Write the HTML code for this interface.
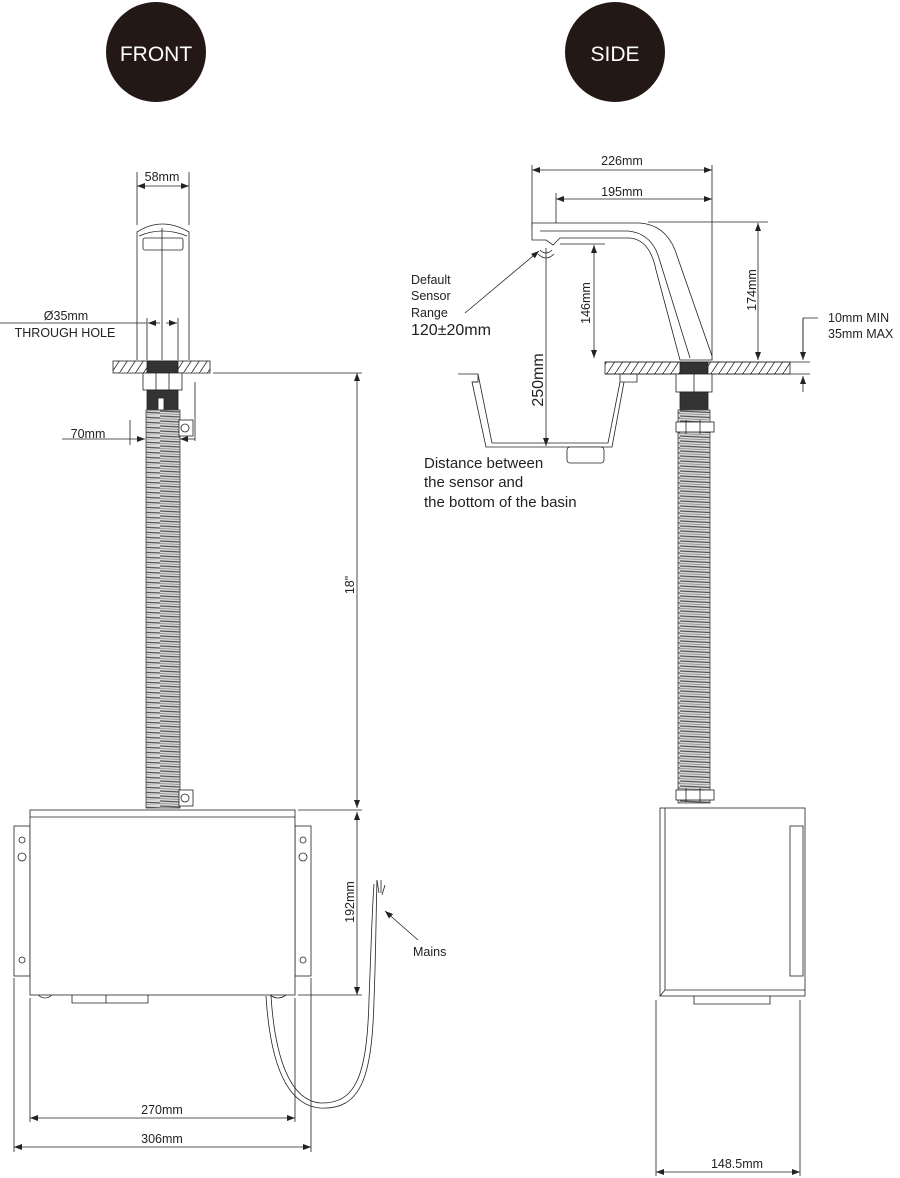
<!DOCTYPE html>
<html><head><meta charset="utf-8"><style>
html,body{margin:0;padding:0;background:#fff;}
svg{display:block;font-family:"Liberation Sans",sans-serif;}
</style></head><body>
<svg width="900" height="1178" viewBox="0 0 900 1178" xmlns="http://www.w3.org/2000/svg">
<defs>
<pattern id="hose" width="40" height="5" patternUnits="userSpaceOnUse">
<rect width="40" height="5" fill="#d8d8d8"/>
<path d="M0 1 L40 3" stroke="#555" stroke-width="1.3"/>
<path d="M0 3.5 L40 5.5" stroke="#888" stroke-width="0.8"/>
</pattern>
<pattern id="hatch" width="8" height="12" patternUnits="userSpaceOnUse">
<path d="M0 12 L8 0" stroke="#333" stroke-width="0.9"/>
</pattern>
<marker id="a" markerWidth="8" markerHeight="6" refX="8" refY="3" orient="auto-start-reverse" markerUnits="userSpaceOnUse"><path d="M0 0 L8 3 L0 6z" fill="#222"/></marker>
</defs>
<g stroke="#222" stroke-width="0.8" fill="none">
<!-- circles -->
<circle cx="156" cy="52" r="50" fill="#231815" stroke="none"/>
<circle cx="615" cy="52" r="50" fill="#231815" stroke="none"/>

<!-- FRONT spout -->
<path d="M137 172 V225 M189 172 V225"/>
<path d="M137 186 H189" marker-start="url(#a)" marker-end="url(#a)"/>
<path d="M137 360 V232 Q162 216 189 232 V360"/>
<path d="M139 236 Q162 226 187 236"/>
<rect x="143" y="238" width="40" height="12" rx="2"/>
<path d="M162 228 V360"/>
<path d="M147 318 V360 M178 318 V360"/>
<path d="M0 323 H147"/>
<path d="M148 323 H160" marker-start="url(#a)"/>
<path d="M166 323 H177" marker-end="url(#a)"/>
<rect x="113" y="361" width="97" height="12" fill="url(#hatch)"/>
<rect x="147" y="361" width="31" height="12" fill="#333"/>
<rect x="143" y="373" width="39" height="17" fill="#fff"/>
<path d="M156 373 V390 M169 373 V390"/>
<rect x="147" y="390" width="31" height="20" fill="#333"/>
<rect x="158" y="398" width="6" height="12" fill="#fff"/>
<rect x="146" y="410" width="34" height="398" fill="url(#hose)" stroke="#444"/>
<rect x="179" y="420" width="14" height="16" fill="#fff"/>
<circle cx="185" cy="428" r="4"/>
<rect x="179" y="790" width="14" height="16" fill="#fff"/>
<circle cx="185" cy="798" r="4"/>
<path d="M195 382 V441 M130 420 V445"/>
<path d="M62 439 H145" marker-end="url(#a)"/>
<path d="M180 439 H195" marker-start="url(#a)"/>
<!-- 18" -->
<path d="M213 373 H362 M298 810 H362 M298 995 H362"/>
<path d="M357 373 V808" marker-start="url(#a)" marker-end="url(#a)"/>
<path d="M357 812 V995" marker-start="url(#a)" marker-end="url(#a)"/>
<!-- box front -->
<rect x="14" y="826" width="16" height="150" fill="#fff"/>
<rect x="295" y="826" width="16" height="150" fill="#fff"/>
<circle cx="22" cy="840" r="3"/><circle cx="22" cy="857" r="4"/><circle cx="22" cy="960" r="3"/>
<circle cx="303" cy="840" r="3"/><circle cx="303" cy="857" r="4"/><circle cx="303" cy="960" r="3"/>
<rect x="30" y="810" width="265" height="185" fill="#fff"/>
<path d="M30 817 H295"/>
<path d="M72 995 V1003 H148 V995 M106 995 V1003"/>
<path d="M38 995 Q45 1001 52 995 M270 995 Q278 1001 286 995"/>
<!-- cable -->
<path d="M266 996 C270 1060 285 1105 320 1108 C360 1110 372 1080 374 1000 C376 950 376 910 377 880"/>
<path d="M271 996 C275 1058 290 1100 320 1103 C355 1104 367 1078 369 1000 C371 950 372 910 374 884"/>
<path d="M377 880 L379 893 M381 880 L381 893 M385 885 L382 895"/>
<path d="M418 940 L385 911" marker-end="url(#a)"/>
<!-- bottom dims -->
<path d="M30 998 V1122 M295 998 V1122 M14 978 V1152 M311 978 V1152"/>
<path d="M30 1118 H295" marker-start="url(#a)" marker-end="url(#a)"/>
<path d="M14 1147 H311" marker-start="url(#a)" marker-end="url(#a)"/>

<!-- SIDE -->
<path d="M532 165 V228 M712 165 V360 M556 193 V240"/>
<path d="M532 170 H712" marker-start="url(#a)" marker-end="url(#a)"/>
<path d="M556 199 H712" marker-start="url(#a)" marker-end="url(#a)"/>
<path d="M532 223 H640 Q665 225 675 250 L712 356 L712 360 H680 L656 270 Q650 240 630 238 H560 L553 245 L546 240 H532 Z" fill="#fff"/>
<path d="M540 231 H628 Q650 233 658 255 L690 358"/>
<path d="M648 222 H768 M560 244 H605"/>
<path d="M758 223 V360" marker-start="url(#a)" marker-end="url(#a)"/>
<path d="M594 245 V358" marker-start="url(#a)" marker-end="url(#a)"/>
<path d="M546 248 V446" marker-end="url(#a)"/>
<path d="M540 250 Q546 256 552 250 M538 254 Q546 262 554 254"/>
<path d="M465 313 L539 251" marker-end="url(#a)"/>
<rect x="605" y="362" width="185" height="12" fill="url(#hatch)"/>
<rect x="680" y="362" width="28" height="12" fill="#333"/>
<path d="M605 362 H810 M605 374 H810"/>
<path d="M803 318 H818 M803 318 V358"/>
<path d="M803 318 V360" marker-end="url(#a)"/>
<path d="M803 392 V376" marker-end="url(#a)"/>
<!-- basin -->
<path d="M458 374 H478 V382 H472 L486 447 H612 L624 382 H620 V374 H637 V382 H624"/>
<path d="M472 382 H478 M478 374 L492 443 H608 L620 382"/>
<rect x="567" y="447" width="37" height="16" rx="3" fill="#fff"/>
<!-- side pipe -->
<rect x="676" y="374" width="36" height="18" fill="#fff"/>
<path d="M694 374 V392"/>
<rect x="680" y="392" width="28" height="18" fill="#333"/>
<rect x="678" y="410" width="32" height="393" fill="url(#hose)" stroke="#444"/>
<rect x="676" y="422" width="38" height="10" fill="#fff"/>
<path d="M686 420 V434 M700 420 V434"/>
<rect x="676" y="790" width="38" height="10" fill="#fff"/>
<path d="M686 788 V802 M700 788 V802"/>
<!-- side box -->
<rect x="660" y="808" width="145" height="188" fill="#fff"/>
<path d="M665 808 V990 L660 996 M665 990 H805"/>
<rect x="790" y="826" width="13" height="150"/>
<path d="M694 996 V1004 H770 V996"/>
<path d="M656 1000 V1176 M800 1000 V1176"/>
<path d="M656 1172 H800" marker-start="url(#a)" marker-end="url(#a)"/>
</g>
<g font-size="12.5" fill="#222">
<text x="156" y="61" font-size="21" fill="#fff" text-anchor="middle">FRONT</text>
<text x="615" y="61" font-size="21" fill="#fff" text-anchor="middle">SIDE</text>
<text x="162" y="181" text-anchor="middle">58mm</text>
<text x="66" y="320" text-anchor="middle">Ø35mm</text>
<text x="65" y="337" text-anchor="middle">THROUGH HOLE</text>
<text x="88" y="438" text-anchor="middle">70mm</text>
<text transform="translate(354,585) rotate(-90)" text-anchor="middle">18"</text>
<text transform="translate(354,902) rotate(-90)" text-anchor="middle">192mm</text>
<text x="413" y="956">Mains</text>
<text x="162" y="1114" text-anchor="middle">270mm</text>
<text x="162" y="1143" text-anchor="middle">306mm</text>
<text x="622" y="165" text-anchor="middle">226mm</text>
<text x="622" y="196" text-anchor="middle">195mm</text>
<text transform="translate(590,303) rotate(-90)" text-anchor="middle">146mm</text>
<text transform="translate(756,290) rotate(-90)" text-anchor="middle">174mm</text>
<text transform="translate(543,380) rotate(-90)" text-anchor="middle" font-size="16">250mm</text>
<text x="411" y="284">Default</text>
<text x="411" y="300">Sensor</text>
<text x="411" y="317">Range</text>
<text x="411" y="335" font-size="16">120±20mm</text>
<text x="424" y="468" font-size="15">Distance between</text>
<text x="424" y="487" font-size="15">the sensor and</text>
<text x="424" y="507" font-size="15">the bottom of the basin</text>
<text x="828" y="322">10mm MIN</text>
<text x="828" y="338">35mm MAX</text>
<text x="737" y="1168" text-anchor="middle">148.5mm</text>
</g>
</svg>
</body></html>
